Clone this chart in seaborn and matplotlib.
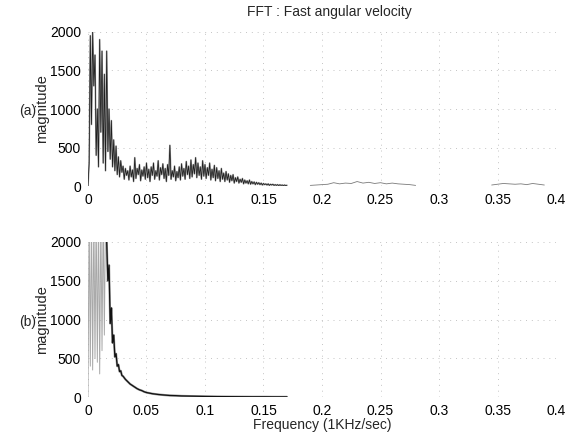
import numpy as np
import pandas as pd
import matplotlib
matplotlib.use("Agg")
import matplotlib.pyplot as plt
import seaborn as sns

sns.set_style("white")
plt.rcParams["font.family"] = ["Liberation Sans", "DejaVu Sans"]

# ---------------- data ----------------
# panel (a): spectrum 0 .. 0.170 at 0.001 steps
freq_a = [round(i * 0.001, 3) for i in range(171)]
mag_a = [0, 300, 1950, 800, 2000, 1300, 1700, 400, 1000, 250,
         1900, 700, 1750, 300, 1450, 200, 1750, 450, 1000, 350,
         850, 250, 600, 200, 520, 150, 380, 120, 330, 180,
         260, 90, 230, 140, 200, 80, 260, 120, 210, 60,
         370, 100, 230, 150, 280, 70, 210, 130, 250, 90,
         300, 110, 220, 60, 250, 140, 300, 90, 200, 130,
         330, 80, 240, 150, 290, 100, 230, 60, 280, 140,
         530, 90, 200, 120, 260, 70, 190, 110, 250, 80,
         290, 130, 230, 90, 320, 150, 260, 100, 340, 120,
         280, 160, 370, 110, 300, 140, 250, 90, 330, 130,
         280, 100, 240, 140, 300, 80, 220, 110, 270, 70,
         240, 100, 200, 60, 230, 90, 170, 60, 190, 80,
         160, 50, 140, 70, 150, 40, 110, 60, 120, 40,
         90, 50, 100, 30, 80, 40, 70, 30, 80, 25,
         60, 30, 55, 20, 50, 25, 45, 20, 40, 15,
         35, 20, 30, 15, 30, 10, 25, 15, 25, 10,
         20, 10, 20, 8, 18, 10, 15, 8, 15, 8, 12]
# panel (a): faint high-frequency remnants
freq_a_mid = [0.190, 0.195, 0.200, 0.205, 0.210, 0.215, 0.220, 0.225, 0.230,
              0.235, 0.240, 0.245, 0.250, 0.255, 0.260, 0.265, 0.270, 0.275, 0.280]
mag_a_mid = [10, 15, 20, 25, 45, 30, 40, 35, 60, 40, 50, 35, 45, 30, 40, 30, 25, 20, 10]
freq_a_hi = [0.345, 0.350, 0.355, 0.360, 0.365, 0.370, 0.375, 0.380, 0.385, 0.390]
mag_a_hi = [15, 25, 35, 30, 25, 30, 20, 35, 25, 15]

# panel (b): low-frequency band (clipped at 2000)
freq_b_band = [0.000, 0.001, 0.002, 0.003, 0.004, 0.005, 0.006, 0.007,
               0.008, 0.009, 0.010, 0.011, 0.012, 0.013, 0.014, 0.015]
mag_b_band = [0, 2400, 400, 2400, 350, 2400, 500, 2400,
              450, 2400, 300, 2400, 600, 2400, 800, 2400]
# panel (b): decaying part
freq_b = [0.016, 0.017, 0.018, 0.019, 0.020, 0.021, 0.022, 0.023, 0.024, 0.025,
          0.026, 0.027, 0.028, 0.029, 0.030, 0.032, 0.034, 0.036, 0.038, 0.040,
          0.042, 0.044, 0.046, 0.048, 0.050, 0.055, 0.060, 0.065, 0.070, 0.075,
          0.080, 0.090, 0.100, 0.110, 0.120, 0.130, 0.140, 0.150, 0.160, 0.170]
mag_b = [2000, 1500, 1700, 950, 1150, 700, 800, 520, 560, 400,
         420, 330, 340, 280, 270, 230, 200, 170, 150, 130,
         110, 95, 85, 70, 60, 45, 35, 28, 22, 20,
         16, 13, 10, 8, 7, 6, 5, 5, 4, 4]

x_ticks = [0, 0.05, 0.1, 0.15, 0.2, 0.25, 0.3, 0.35, 0.4]
x_labels = ["0", "0.05", "0.1", "0.15", "0.2", "0.25", "0.3", "0.35", "0.4"]
y_ticks = [0, 500, 1000, 1500, 2000]
y_labels = ["0", "500", "1000", "1500", "2000"]

# ---------------- figure ----------------
fig = plt.figure(figsize=(5.75, 4.36), dpi=100)
ax_a = fig.add_axes([0.153, 0.573, 0.814, 0.354])
ax_b = fig.add_axes([0.153, 0.089, 0.814, 0.356])

def style(ax):
    ax.set_xlim(0, 0.4)
    ax.set_ylim(0, 2000)
    ax.set_xticks(x_ticks)
    ax.set_xticklabels(x_labels)
    ax.set_yticks(y_ticks)
    ax.set_yticklabels(y_labels)
    ax.tick_params(length=0, labelsize=10, pad=5, colors="black")
    for s in ax.spines.values():
        s.set_visible(False)
    ax.grid(True, color="#c4c4c4", linestyle=(0, (1, 5)), linewidth=0.7)
    ax.set_ylabel("magnitude", fontsize=10.5)
    ax.yaxis.set_label_coords(-0.083, 0.5)
    ax.set_xlabel("")

def line(ax, x, y, color, lw):
    sns.lineplot(x=x, y=y, ax=ax, color=color, linewidth=lw,
                 estimator=None, sort=False)

# (a)
line(ax_a, freq_a, mag_a, "#a0a0a0", 1.2)
line(ax_a, freq_a, mag_a, "#1e1e1e", 0.55)
line(ax_a, freq_a_mid, mag_a_mid, "#7a7a7a", 0.6)
line(ax_a, freq_a_hi, mag_a_hi, "#7a7a7a", 0.6)
style(ax_a)

# (b)
line(ax_b, freq_b_band, mag_b_band, "#a8a8a8", 0.7)
line(ax_b, freq_b, mag_b, "#9a9a9a", 1.6)
line(ax_b, freq_b, mag_b, "#111111", 0.9)
style(ax_b)
ax_b.set_xlabel("Frequency (1KHz/sec)", fontsize=10)
ax_b.xaxis.set_label_coords(0.5, -0.135)

fig.text(0.573, 0.972, "FFT : Fast angular velocity", ha="center", va="center", fontsize=10)
fig.text(0.048, 0.745, "(a)", ha="center", va="center", fontsize=10)
fig.text(0.048, 0.262, "(b)", ha="center", va="center", fontsize=10)

fig.savefig("out.png", dpi=100)
